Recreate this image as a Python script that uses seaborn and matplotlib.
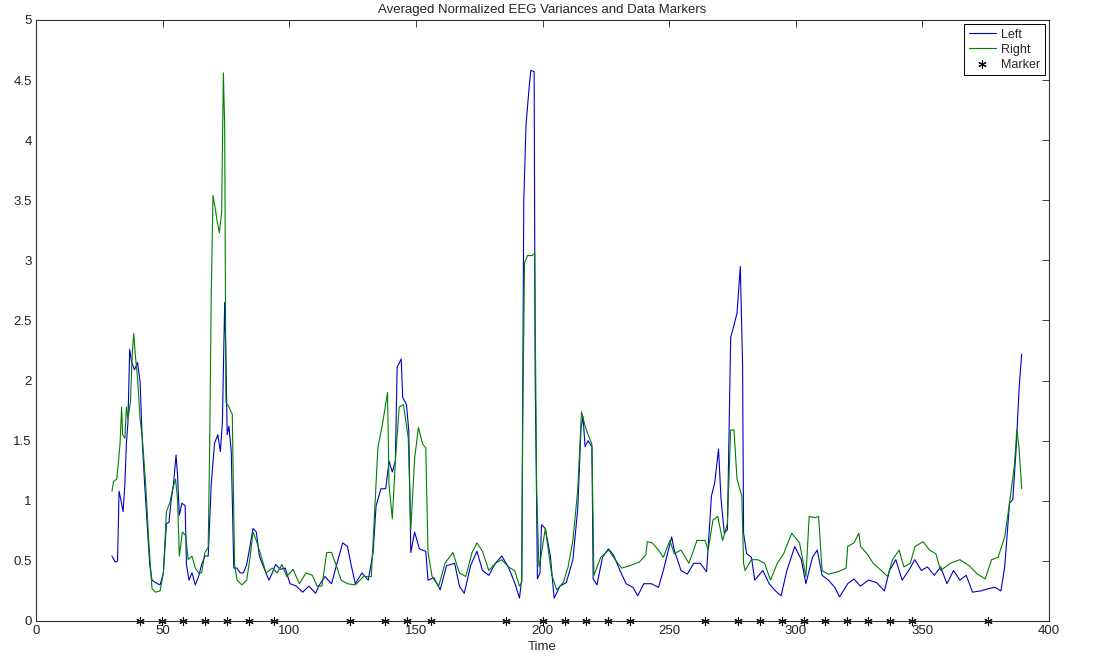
import numpy as np
import pandas as pd
import matplotlib
matplotlib.use("Agg")
import matplotlib.pyplot as plt
import seaborn as sns

# -----------------------------
# Data
# -----------------------------
left_t = [30.0, 31.3, 32.2, 32.8, 33.5, 34.4, 35.1, 35.7, 36.3, 37.0, 37.8, 38.9, 40.1, 41.1, 42.0, 42.9,
          43.9, 44.9, 45.8, 47.1, 49.0, 50.3, 51.5, 52.5, 53.4, 54.3, 55.3, 55.9, 56.6, 57.6, 58.9, 59.4,
          60.4, 61.6, 62.9, 64.2, 65.4, 66.7, 68.0, 69.2, 70.5, 71.8, 72.8, 73.6, 74.5, 75.0, 75.5, 76.2,
          77.1, 78.1, 79.4, 80.6, 81.9, 83.2, 84.4, 85.7, 87.0, 88.2, 89.5, 90.8, 92.0, 93.3, 94.6, 96.5,
          98.4, 100.3, 102.8, 105.3, 107.8, 110.4, 111.6, 114.1, 116.7, 118.6, 121.1, 123.0, 124.5, 126.1,
          128.7, 131.2, 133.1, 134.3, 136.2, 138.1, 139.4, 140.7, 141.9, 142.6, 144.2, 144.8, 146.3, 147.2,
          148.0, 149.5, 151.4, 153.9, 154.8, 157.1, 159.6, 162.1, 165.3, 167.2, 169.1, 171.6, 174.1, 176.3,
          178.8, 181.4, 183.9, 186.5, 189.0, 190.9, 191.8, 192.2, 192.6, 193.5, 194.8, 195.4, 196.7, 197.1,
          198.0, 199.0, 199.6, 201.1, 203.1, 204.6, 206.9, 209.4, 212.0, 213.9, 215.2, 216.0, 216.8, 218.0,
          219.5, 220.0, 221.5, 223.7, 226.0, 228.0, 230.6, 233.0, 235.7, 237.6, 240.0, 243.0, 245.8, 247.7,
          251.0, 252.0, 254.7, 257.2, 259.7, 262.3, 264.8, 266.7, 268.0, 269.5, 270.5, 271.8, 273.0, 274.3,
          275.6, 276.8, 278.1, 279.0, 279.4, 280.6, 282.5, 283.8, 287.0, 289.5, 292.0, 294.2, 296.5, 299.6,
          302.2, 304.0, 306.6, 308.5, 310.4, 312.9, 315.4, 317.3, 320.5, 323.0, 325.5, 328.7, 331.9, 335.0,
          337.0, 339.5, 342.0, 344.6, 347.0, 349.6, 352.0, 354.7, 357.2, 359.7, 362.3, 364.8, 367.3, 369.8,
          373.0, 376.2, 378.7, 381.0, 382.5, 384.4, 385.7, 387.0, 388.2, 389.2]
left_v = [0.54, 0.49, 0.50, 1.08, 1.01, 0.91, 1.14, 1.48, 1.65, 2.26, 2.15, 2.09, 2.15, 1.99, 1.48, 1.14,
          0.81, 0.47, 0.34, 0.32, 0.30, 0.40, 0.81, 0.82, 1.01, 1.14, 1.38, 1.21, 0.88, 0.98, 0.96, 0.47,
          0.34, 0.40, 0.30, 0.37, 0.47, 0.54, 0.54, 1.14, 1.48, 1.55, 1.41, 1.65, 2.65, 2.20, 1.55, 1.62,
          1.41, 0.44, 0.44, 0.40, 0.40, 0.47, 0.61, 0.77, 0.74, 0.54, 0.47, 0.40, 0.34, 0.40, 0.47, 0.43,
          0.44, 0.31, 0.29, 0.24, 0.29, 0.23, 0.29, 0.37, 0.31, 0.46, 0.65, 0.62, 0.46, 0.31,
          0.40, 0.34, 0.57, 0.96, 1.10, 1.10, 1.33, 1.24, 1.33, 2.11, 2.18, 1.86, 1.80, 1.58,
          0.57, 0.74, 0.60, 0.58, 0.34, 0.36, 0.26, 0.46, 0.48, 0.29, 0.23, 0.46, 0.58, 0.42,
          0.38, 0.48, 0.54, 0.45, 0.32, 0.19, 0.35, 1.96, 3.49, 4.13, 4.46, 4.58, 4.57, 2.05,
          0.35, 0.40, 0.80, 0.77, 0.54, 0.19, 0.29, 0.32, 0.51, 0.93, 1.60, 1.70, 1.45, 1.50,
          1.45, 0.35, 0.30, 0.53, 0.60, 0.55, 0.42, 0.31, 0.28, 0.21, 0.31, 0.31, 0.28, 0.42,
          0.70, 0.59, 0.42, 0.39, 0.48, 0.48, 0.41, 1.04, 1.15, 1.43, 1.01, 0.73, 0.76, 2.36,
          2.46, 2.56, 2.95, 2.13, 0.73, 0.56, 0.53, 0.34, 0.42, 0.31, 0.25, 0.21, 0.42, 0.62,
          0.51, 0.31, 0.53, 0.59, 0.38, 0.34, 0.28, 0.20, 0.31, 0.35, 0.29, 0.34, 0.32, 0.25,
          0.42, 0.51, 0.34, 0.42, 0.51, 0.42, 0.45, 0.38, 0.45, 0.31, 0.42, 0.34, 0.38, 0.24,
          0.25, 0.27, 0.28, 0.25, 0.45, 0.98, 1.01, 1.43, 1.94, 2.22]

right_t = [30.0, 30.6, 31.9, 32.5, 33.2, 33.8, 34.2, 35.1, 35.7, 36.3, 37.3, 38.0, 38.6, 39.2, 40.1, 41.1,
           42.0, 43.3, 44.6, 45.8, 47.1, 49.0, 50.3, 51.5, 52.8, 54.1, 55.1, 55.9, 56.6, 57.8, 59.1, 60.1,
           61.6, 62.9, 64.2, 65.4, 66.7, 68.0, 68.6, 69.2, 69.9, 70.8, 71.5, 72.4, 73.3, 74.0, 74.5, 75.0,
           76.2, 77.5, 78.4, 79.4, 81.3, 83.2, 84.4, 85.7, 87.0, 88.9, 90.8, 93.3, 95.2, 97.1, 99.0, 101.5,
           104.0, 106.6, 109.1, 111.0, 112.9, 114.8, 116.7, 118.6, 120.5, 123.0, 126.1, 129.3, 132.4, 133.7,
           135.0, 136.9, 138.8, 139.4, 140.7, 141.9, 143.4, 145.1, 147.0, 148.0, 149.5, 151.0, 152.7, 153.9,
           154.8, 156.4, 159.0, 161.5, 164.6, 167.2, 169.7, 172.2, 174.1, 176.3, 178.8, 181.4, 183.9, 186.5,
           189.0, 190.9, 191.8, 192.2, 192.9, 194.1, 196.0, 196.9, 197.7, 198.6, 199.2, 201.1, 203.7, 205.6,
           208.2, 210.1, 212.0, 213.9, 215.4, 216.7, 218.0, 219.5, 220.3, 223.0, 226.2, 228.7, 231.3, 234.4,
           238.2, 240.8, 241.4, 243.3, 245.8, 247.7, 250.3, 252.0, 254.7, 257.8, 261.0, 264.2, 265.4, 267.3,
           269.2, 271.1, 273.0, 274.3, 275.6, 276.8, 278.7, 279.4, 280.0, 282.5, 285.0, 287.7, 290.0, 292.7,
           295.2, 298.4, 301.5, 304.0, 305.3, 307.8, 309.0, 310.4, 312.9, 316.7, 319.9, 320.5, 323.0, 324.9,
           325.6, 328.1, 330.6, 333.8, 336.3, 338.2, 340.8, 342.7, 345.2, 347.1, 350.3, 352.8, 355.3, 357.2,
           361.0, 364.8, 368.5, 371.7, 374.8, 377.3, 379.9, 382.5, 384.4, 386.3, 387.3, 388.2, 389.2]
right_v = [1.08, 1.16, 1.18, 1.31, 1.48, 1.78, 1.55, 1.52, 1.78, 1.68, 1.82, 2.22, 2.39, 2.22, 2.02, 1.68,
           1.52, 1.14, 0.64, 0.27, 0.24, 0.25, 0.40, 0.91, 0.98, 1.11, 1.18, 1.01, 0.54, 0.74, 0.71, 0.51,
           0.54, 0.44, 0.40, 0.40, 0.57, 0.61, 1.48, 2.73, 3.54, 3.43, 3.33, 3.23, 3.40, 4.56, 4.11, 1.82,
           1.78, 1.72, 0.47, 0.34, 0.30, 0.34, 0.51, 0.74, 0.67, 0.54, 0.40, 0.44, 0.40, 0.47, 0.37, 0.43,
           0.31, 0.40, 0.38, 0.29, 0.29, 0.57, 0.57, 0.46, 0.34, 0.31, 0.30, 0.37, 0.37, 0.90,
           1.44, 1.65, 1.90, 1.13, 0.85, 1.33, 1.78, 1.80, 1.52, 0.76, 1.35, 1.61, 1.47, 1.44,
           0.57, 0.37, 0.29, 0.48, 0.57, 0.40, 0.37, 0.57, 0.65, 0.58, 0.42, 0.48, 0.51, 0.45,
           0.42, 0.29, 0.32, 1.67, 2.98, 3.04, 3.04, 3.06, 1.09, 0.45, 0.51, 0.77, 0.38, 0.26,
           0.32, 0.45, 0.67, 1.09, 1.74, 1.63, 1.55, 1.47, 0.38, 0.53, 0.59, 0.51, 0.44, 0.46,
           0.49, 0.55, 0.66, 0.65, 0.59, 0.53, 0.67, 0.56, 0.59, 0.48, 0.67, 0.67, 0.59, 0.84,
           0.87, 0.67, 0.81, 1.59, 1.59, 1.18, 1.04, 0.48, 0.42, 0.51, 0.51, 0.48, 0.34, 0.48,
           0.56, 0.73, 0.65, 0.37, 0.87, 0.86, 0.87, 0.42, 0.39, 0.41, 0.44, 0.62, 0.65, 0.73,
           0.62, 0.56, 0.48, 0.42, 0.37, 0.51, 0.59, 0.45, 0.48, 0.62, 0.66, 0.59, 0.56, 0.42,
           0.48, 0.51, 0.46, 0.39, 0.35, 0.51, 0.53, 0.70, 0.98, 1.29, 1.59, 1.43, 1.10]

marker_t = [41.2, 49.8, 58.2, 66.7, 75.5, 84.0, 94.0, 124.0, 138.0, 146.5, 155.8, 185.6, 200.0, 208.7,
            217.1, 225.7, 234.4, 264.2, 277.3, 286.0, 294.5, 303.3, 311.7, 320.2, 328.7, 337.3, 345.9, 376.0]
marker_v = [0.0] * len(marker_t)

x_ticks = list(range(0, 401, 50))
y_ticks = [0, 0.5, 1, 1.5, 2, 2.5, 3, 3.5, 4, 4.5, 5]
y_labels = ["0", "0.5", "1", "1.5", "2", "2.5", "3", "3.5", "4", "4.5", "5"]

# -----------------------------
# Plot
# -----------------------------
sns.set_style("white")
plt.rcParams["font.family"] = ["Liberation Sans", "DejaVu Sans"]
plt.rcParams["font.size"] = 9.5

fig = plt.figure(figsize=(11.04, 6.57), dpi=100)
ax = fig.add_axes([0.0326, 0.0548, 0.9176, 0.9148])

left_df = pd.DataFrame({"Time": left_t, "Value": left_v})
right_df = pd.DataFrame({"Time": right_t, "Value": right_v})

sns.lineplot(data=left_df, x="Time", y="Value", sort=False, estimator=None,
             color="#0000c8", linewidth=0.8, label="Left", ax=ax)
sns.lineplot(data=right_df, x="Time", y="Value", sort=False, estimator=None,
             color="#007f00", linewidth=0.8, label="Right", ax=ax)
ax.plot(marker_t, marker_v, linestyle="none", marker=(6, 2, 0), markersize=6,
        markeredgewidth=0.8, color="black", label="Marker", clip_on=False)

ax.set_xlim(0, 400)
ax.set_ylim(0, 5)
ax.set_xticks(x_ticks)
ax.set_yticks(y_ticks)
ax.set_yticklabels(y_labels)
ax.set_xlabel("Time", labelpad=3, fontsize=9.5)
ax.set_ylabel("")
ax.set_title("Averaged Normalized EEG Variances and Data Markers", fontsize=9.5, pad=5)

ax.tick_params(direction="in", length=5, width=0.6, top=True, right=True,
               labelsize=9.5, colors="#222222", pad=3)
for side in ax.spines.values():
    side.set_linewidth(0.8)
    side.set_color("#333333")

leg = ax.legend(loc="upper right", fancybox=False, edgecolor="black", framealpha=1,
                fontsize=9, handlelength=2.2, borderaxespad=0.35, labelspacing=0.25,
                handletextpad=0.4, borderpad=0.35)
leg.get_frame().set_linewidth(0.7)

fig.savefig("out.png", dpi=100)
plt.close(fig)
